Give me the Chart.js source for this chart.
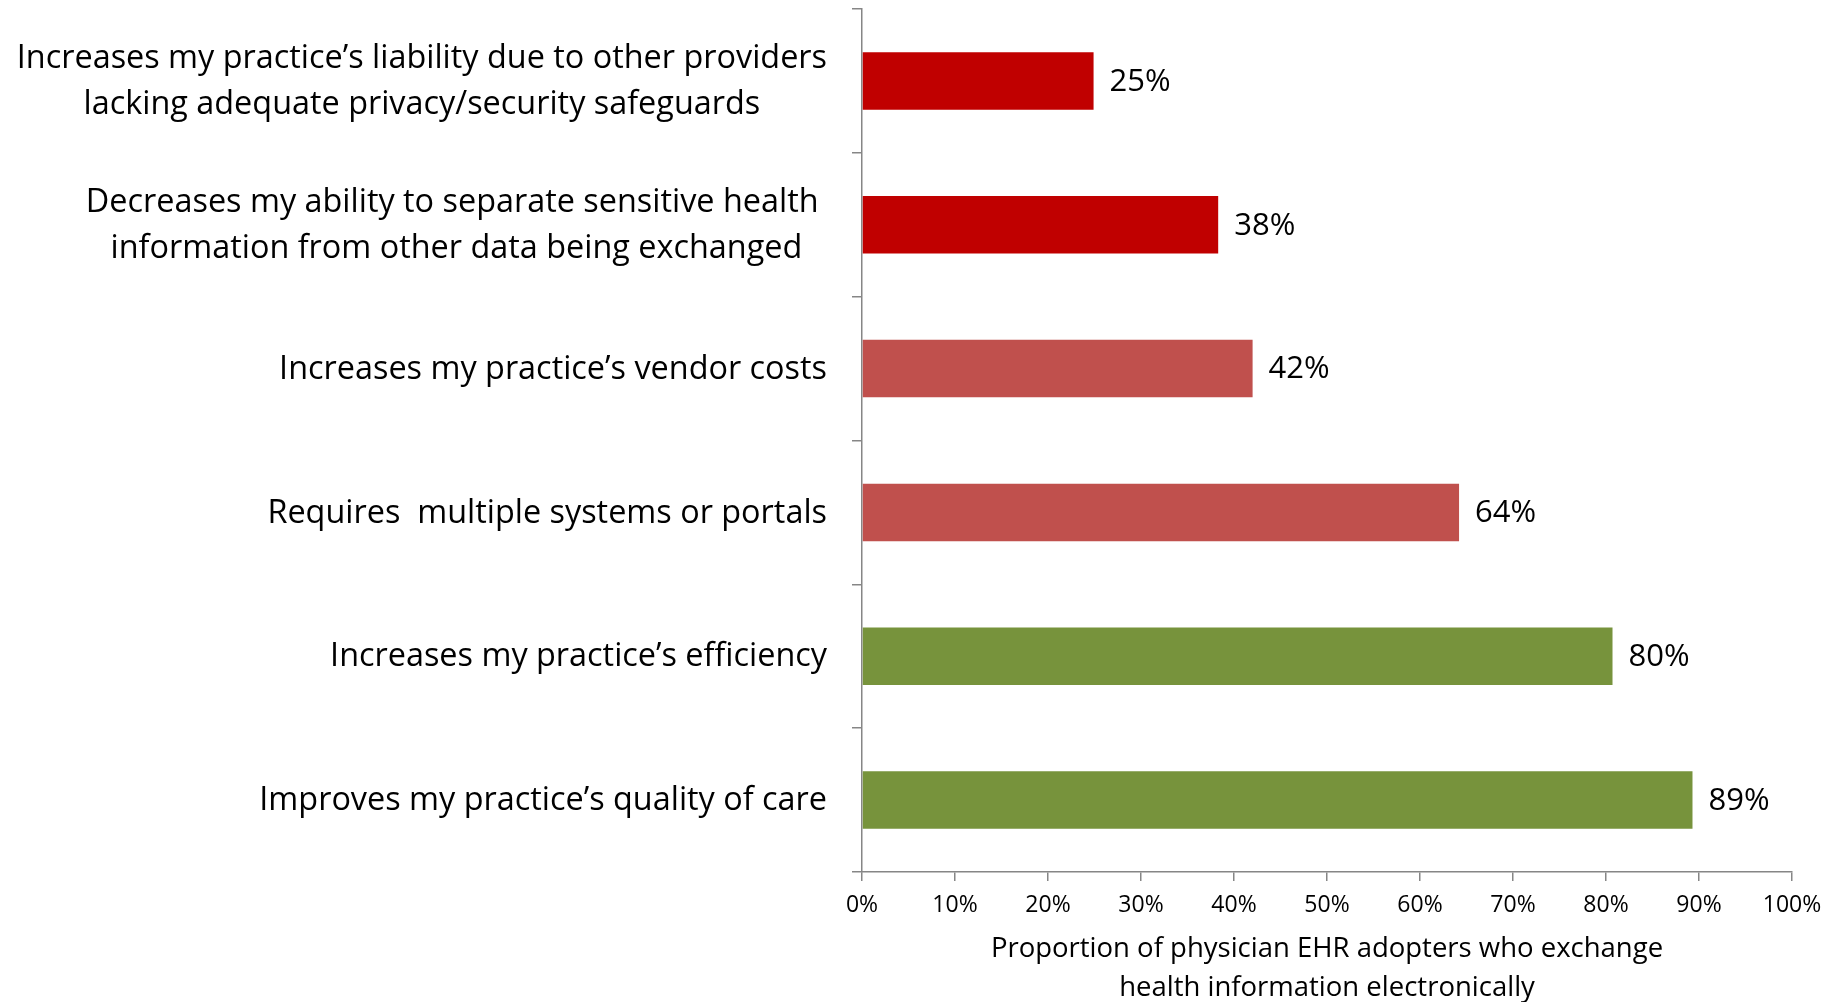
<!DOCTYPE html>
<html>
<head>
<meta charset="utf-8">
<script src="https://cdn.jsdelivr.net/npm/chart.js@4"></script>
<style>
  html, body { margin: 0; padding: 0; background: #ffffff; }
  #wrap { width: 1837px; height: 1002px; position: relative; }
</style>
</head>
<body>
<div id="wrap"><canvas id="c" width="1837" height="1002"></canvas></div>
<script>
const categories = [
  ["Increases my practice\u2019s liability due to other providers", "lacking adequate privacy/security safeguards"],
  ["Decreases my ability to separate sensitive health ", "information from other data being exchanged"],
  "Increases my practice\u2019s vendor costs",
  "Requires  multiple systems or portals",
  "Increases my practice\u2019s efficiency",
  "Improves my practice\u2019s quality of care"
];
const values = [24.9, 38.3, 42, 64.2, 80.7, 89.3];
const valueLabels = ["25%", "38%", "42%", "64%", "80%", "89%"];
const barColors = ["#C00000", "#C00000", "#C0504D", "#C0504D", "#77933C", "#77933C"];
const xTickValues = [0, 10, 20, 30, 40, 50, 60, 70, 80, 90, 100];
const xTitle = ["Proportion of physician EHR adopters who exchange", "health information electronically"];

const FONT = "'Open Sans', 'Noto Sans', sans-serif";
const CAT_FONT_SIZE = 32.4;
const CAT_LINE_H = 46;
const CAT_GAP = 35; // distance from axis line to right edge of label block

const dataLabelPlugin = {
  id: 'dataLabels',
  afterDatasetsDraw(chart) {
    const ctx = chart.ctx;
    const meta = chart.getDatasetMeta(0);
    ctx.save();
    ctx.font = "31px " + FONT;
    ctx.fillStyle = "#000000";
    ctx.textAlign = "left";
    ctx.textBaseline = "middle";
    meta.data.forEach((bar, i) => {
      ctx.fillText(valueLabels[i], bar.x + 16, bar.y + 1);
    });
    ctx.restore();
  }
};

// Category labels: block right-aligned to the axis, lines centred within the block
const categoryLabelPlugin = {
  id: 'categoryLabels',
  afterDraw(chart) {
    const ctx = chart.ctx;
    const yScale = chart.scales.y;
    const right = yScale.right - CAT_GAP;
    ctx.save();
    ctx.font = CAT_FONT_SIZE + "px " + FONT;
    ctx.fillStyle = "#000000";
    ctx.textAlign = "left";
    ctx.textBaseline = "middle";
    categories.forEach((cat, i) => {
      const lines = Array.isArray(cat) ? cat : [cat];
      const widths = lines.map(l => ctx.measureText(l).width);
      const maxW = Math.max(...widths);
      const cx = right - maxW / 2;
      const cy = yScale.getPixelForTick(i);
      const y0 = cy - (lines.length - 1) * CAT_LINE_H / 2 + 1;
      lines.forEach((l, j) => ctx.fillText(l, cx - widths[j] / 2, y0 + j * CAT_LINE_H));
    });
    ctx.restore();
  }
};

new Chart(document.getElementById('c'), {
  type: 'bar',
  data: {
    labels: categories,
    datasets: [{
      data: values,
      backgroundColor: barColors,
      borderWidth: 0,
      barPercentage: 0.4,
      categoryPercentage: 1.0
    }]
  },
  options: {
    indexAxis: 'y',
    responsive: false,
    animation: false,
    devicePixelRatio: 1,
    layout: { padding: { top: 9, right: 45, bottom: 0, left: 0 } },
    plugins: {
      legend: { display: false },
      tooltip: { enabled: false }
    },
    scales: {
      x: {
        min: 0, max: 100,
        afterBuildTicks(axis) { axis.ticks = xTickValues.map(v => ({ value: v })); },
        afterFit(axis) { axis.height = 130; axis.paddingLeft = 0; axis.paddingRight = 0; },
        ticks: {
          callback: v => v + '%',
          font: { family: FONT, size: 23 },
          color: '#000000',
          padding: 11,
          maxRotation: 0
        },
        grid: {
          drawOnChartArea: false,
          drawTicks: true,
          tickLength: 9,
          color: '#868686',
          lineWidth: 1.5
        },
        border: { display: true, color: '#868686', width: 1.5 },
        title: {
          display: true,
          text: xTitle,
          font: { family: FONT, size: 27.5, lineHeight: 1.42 },
          color: '#000000',
          padding: { top: 0, bottom: -5.5 }
        }
      },
      y: {
        afterFit(axis) { axis.width = 862; axis.paddingTop = 0; axis.paddingBottom = 0; },
        ticks: {
          display: false
        },
        grid: {
          drawOnChartArea: false,
          drawTicks: true,
          tickLength: 10,
          offset: true,
          color: '#868686',
          lineWidth: 1.5
        },
        border: { display: true, color: '#868686', width: 1.5 }
      }
    }
  },
  plugins: [dataLabelPlugin, categoryLabelPlugin]
});
</script>
</body>
</html>
